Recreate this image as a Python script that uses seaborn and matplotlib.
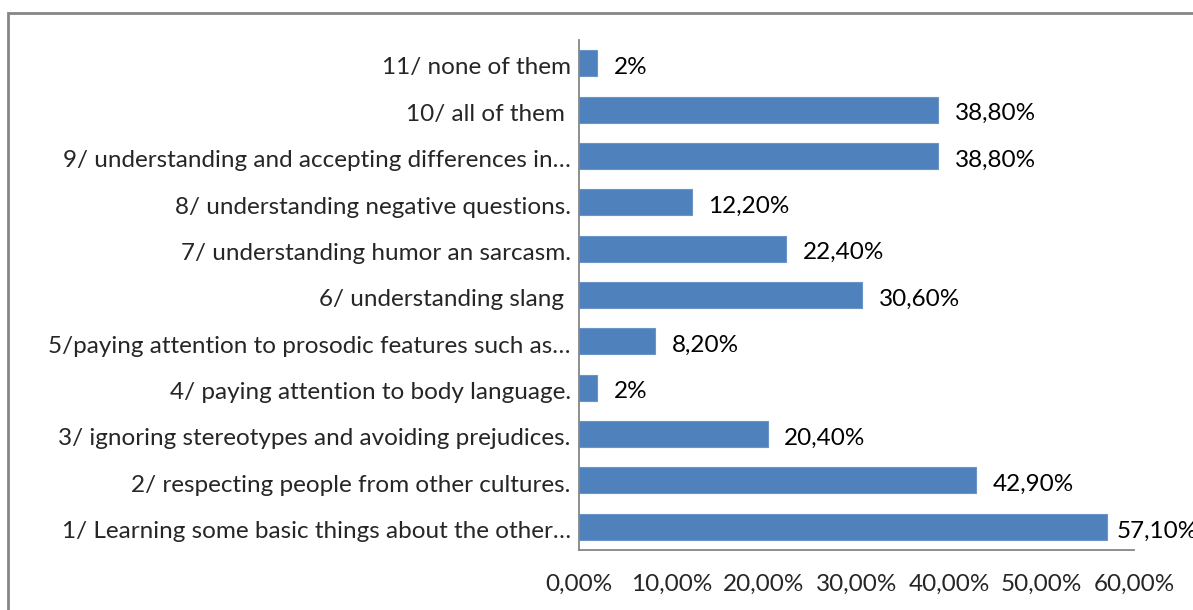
import matplotlib
matplotlib.use("Agg")
import matplotlib.pyplot as plt
import seaborn as sns
import pandas as pd
from matplotlib.patches import Rectangle
from matplotlib.transforms import ScaledTranslation

categories = [
    "11/ none of them",
    "10/ all of them ",
    "9/ understanding and accepting differences in\u2026",
    "8/ understanding negative questions.",
    "7/ understanding humor an sarcasm.",
    "6/ understanding slang ",
    "5/paying attention to prosodic features such as\u2026",
    "4/ paying attention to body language.",
    "3/ ignoring stereotypes and avoiding prejudices.",
    "2/ respecting people from other cultures.",
    "1/ Learning some basic things about the other\u2026",
]
values = [2.0, 38.8, 38.8, 12.2, 22.4, 30.6, 8.2, 2.0, 20.4, 42.9, 57.1]
value_labels = ["2%", "38,80%", "38,80%", "12,20%", "22,40%", "30,60%",
                "8,20%", "2%", "20,40%", "42,90%", "57,10%"]
x_ticks = [0, 10, 20, 30, 40, 50, 60]
x_tick_labels = ["0,00%", "10,00%", "20,00%", "30,00%", "40,00%", "50,00%", "60,00%"]

df = pd.DataFrame({"item": categories, "pct": values})

sns.set_theme(style="white")
plt.rcParams["font.family"] = ["Lato", "DejaVu Sans"]

FS = 17.5

fig = plt.figure(figsize=(11.93, 6.10), dpi=100)
ax = fig.add_axes([0.4853, 0.0984, 0.4652, 0.836])

sns.barplot(data=df, x="pct", y="item", order=categories, orient="h",
            color="#4F81BD", saturation=1, width=0.56, ax=ax,
            edgecolor="#6A95C8", linewidth=0.8)

texts = ax.bar_label(ax.containers[0], labels=value_labels, padding=12,
                     fontsize=FS, color="black")
for t in texts:
    t.set_clip_on(False)
    t.xyann = (t.xyann[0], -3)
# the longest bar's label is pulled in closer to fit beside the bar
texts[-1].xyann = (7, -3)

ax.set_xlim(0, 60)
ax.set_ylim(10.5, -0.5)
ax.set_xticks(x_ticks)
ax.set_xticklabels(x_tick_labels, fontsize=FS)
ax.tick_params(axis="x", length=0, pad=17)
ax.tick_params(axis="y", length=0, pad=6, labelsize=FS)
shift = ScaledTranslation(0, -2 / 72, fig.dpi_scale_trans)
for lbl in ax.get_yticklabels():
    lbl.set_transform(lbl.get_transform() + shift)
ax.set_xlabel("")
ax.set_ylabel("")

for s in ["top", "right"]:
    ax.spines[s].set_visible(False)
for s in ["left", "bottom"]:
    ax.spines[s].set_color("#868686")
    ax.spines[s].set_linewidth(1.3)

# outer chart-area frame
fig.patches.append(Rectangle((8 / 1193, -0.1), 1.2, 1 - 13 / 610 + 0.1,
                             transform=fig.transFigure, fill=False,
                             edgecolor="#868686", linewidth=2))

fig.savefig("out.png", dpi=100)
